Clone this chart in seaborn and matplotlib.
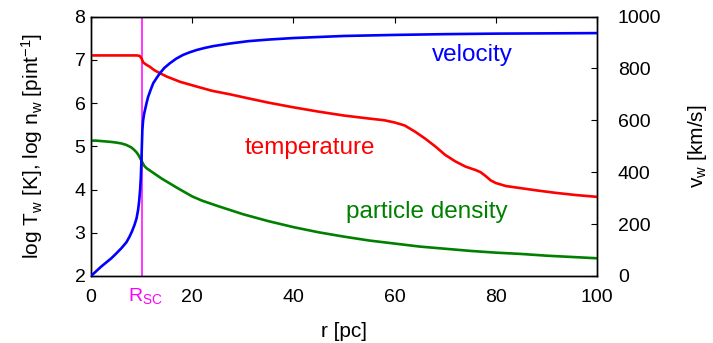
import seaborn as sns
import matplotlib
matplotlib.use("Agg")
import matplotlib.pyplot as plt
import matplotlib.transforms as mtransforms

sns.set_style("white")
plt.rcParams['font.family'] = ['Liberation Sans', 'DejaVu Sans']
plt.rcParams['mathtext.default'] = 'regular'
plt.rcParams['text.color'] = 'black'
plt.rcParams['axes.labelcolor'] = 'black'
plt.rcParams['xtick.color'] = 'black'
plt.rcParams['ytick.color'] = 'black'

# values
r_temp = [0, 2, 4, 6, 8, 9, 9.6, 10, 10.3, 11, 11.6, 12.5, 13.6, 15, 17.6, 20.9,
          24, 27.5, 31, 35, 40, 45, 50, 55, 58, 60, 62, 64, 66, 68, 70, 72, 74, 76,
          77, 78, 79, 80, 82, 85, 88, 92, 96, 100]
log_temp = [7.10, 7.10, 7.10, 7.10, 7.10, 7.10, 7.09, 7.03, 6.94, 6.88, 6.84, 6.76,
            6.69, 6.61, 6.49, 6.38, 6.28, 6.20, 6.11, 6.01, 5.90, 5.80, 5.71, 5.64,
            5.60, 5.55, 5.48, 5.34, 5.18, 5.00, 4.80, 4.65, 4.53, 4.45, 4.40, 4.31,
            4.21, 4.15, 4.08, 4.03, 3.98, 3.92, 3.87, 3.83]

r_dens = [0, 1, 2, 3, 4, 5, 6, 7, 8, 8.5, 9, 9.3, 9.6, 10, 10.5, 11, 12, 13, 14,
          15, 17, 20, 22, 25, 30, 35, 40, 45, 50, 55, 60, 65, 70, 75, 80, 85, 90,
          95, 100]
log_dens = [5.13, 5.13, 5.12, 5.11, 5.10, 5.085, 5.065, 5.03, 4.97, 4.92, 4.86, 4.81,
            4.75, 4.66, 4.55, 4.49, 4.41, 4.33, 4.25, 4.18, 4.04, 3.84, 3.74, 3.62,
            3.43, 3.27, 3.13, 3.01, 2.91, 2.82, 2.75, 2.68, 2.63, 2.58, 2.54, 2.51,
            2.47, 2.44, 2.41]

r_vel = [0, 1, 2, 3, 4, 5, 6, 7, 7.6, 8.1, 8.6, 9.0, 9.3, 9.5, 9.7, 9.85, 9.95,
         10.05, 10.15, 10.3, 10.5, 10.67, 11.0, 11.3, 11.8, 12.3, 13.0, 13.6, 14.5,
         15.6, 16.8, 18.2, 19.5, 20.9, 22.5, 24.2, 27.5, 31.1, 35, 40, 45, 50, 60,
         70, 80, 90, 100]
vel = [0, 18, 36, 52, 68, 87, 107, 130, 151, 172, 197, 222, 254, 285, 331, 380, 434,
       500, 563, 600, 625, 640, 668, 691, 718, 743, 764, 781, 802, 820, 837, 852,
       862, 871, 879, 886, 896, 905, 911, 917, 921, 925, 929, 932, 934, 935, 936]

r_sc = 10
fs = 14

fig = plt.figure(figsize=(7.13, 3.43), dpi=100)
ax = fig.add_axes([91/713, 1-276/343, (597-91)/713, (276-16.5)/343])
ax2 = ax.twinx()

ax.axvline(r_sc, color='#ff00ff', lw=1.1, zorder=1)
sns.lineplot(x=r_temp, y=log_temp, ax=ax, color='#ff0000', lw=1.9, zorder=3)
sns.lineplot(x=r_dens, y=log_dens, ax=ax, color='#008000', lw=1.9, zorder=3)
sns.lineplot(x=r_vel, y=vel, ax=ax2, color='#0000ff', lw=1.9, zorder=3)

ax.set_xlim(0, 100)
ax.set_ylim(2, 8)
ax2.set_ylim(0, 1000)
ax.set_xticks([0, 20, 40, 60, 80, 100])
ax.set_yticks(range(2, 9))
ax2.set_yticks(range(0, 1001, 200))

for a in (ax, ax2):
    for s in a.spines.values():
        s.set_color('black')
        s.set_linewidth(1.0)
ax.tick_params(axis='x', direction='in', length=4.5, width=0.8, top=True,
               labelsize=fs, pad=9)
ax.tick_params(axis='y', direction='in', length=4.5, width=0.8, right=False,
               labelsize=fs, pad=4)
ax2.tick_params(axis='y', direction='in', length=4.5, width=0.8,
                labelsize=fs, pad=15)

ax.set_xlabel('r [pc]', fontsize=15, labelpad=12)
ax.set_ylabel('log T$_w$ [K], log n$_w$ [pint$^{-1}$]', fontsize=15, labelpad=21)
ax2.set_ylabel('v$_w$ [km/s]', fontsize=15, labelpad=18)

trans = mtransforms.blended_transform_factory(ax.transData, ax.transAxes)
ax.text(r_sc + 0.8, -0.04, 'R$_{SC}$', transform=trans, ha='center', va='top',
        color='#ff00ff', fontsize=fs)

ax.text(75.3, 7.11, 'velocity', color='#0000ff', fontsize=17.5, ha='center', va='center')
ax.text(43.3, 4.96, 'temperature', color='#ff0000', fontsize=17.5, ha='center', va='center')
ax.text(66.4, 3.48, 'particle density', color='#008000', fontsize=17.5, ha='center', va='center')

fig.savefig('out.png', dpi=100)
